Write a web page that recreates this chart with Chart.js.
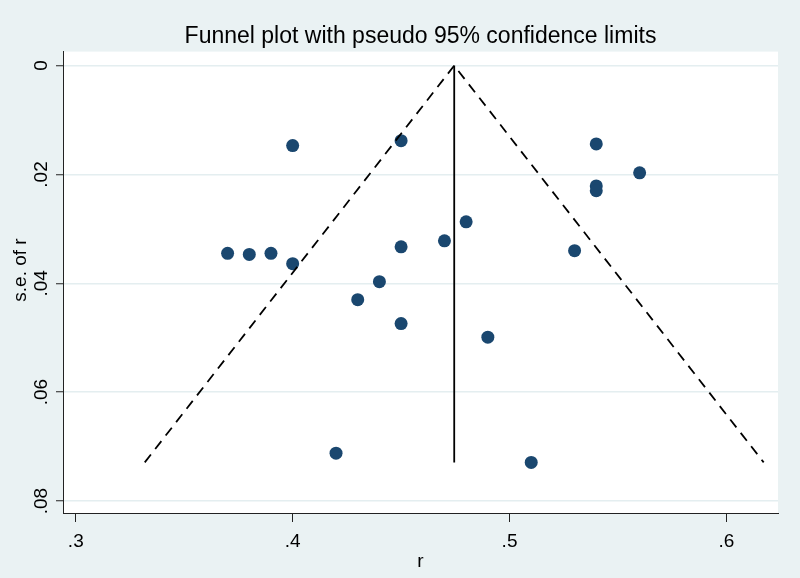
<!DOCTYPE html>
<html>
<head>
<meta charset="utf-8">
<title>Funnel plot</title>
<script src="https://cdn.jsdelivr.net/npm/chart.js@4.4.1/dist/chart.umd.min.js"></script>
<style>
  html, body { margin: 0; padding: 0; background: #EAF2F3; }
  canvas { display: block; }
</style>
</head>
<body>
<canvas id="funnelChart" width="800" height="578"></canvas>
<script>
// Study effect sizes (r) and their standard errors
const effectSizes = [0.40, 0.45, 0.54, 0.56, 0.54, 0.54, 0.48, 0.47, 0.45, 0.53,
                     0.37, 0.38, 0.39, 0.40, 0.44, 0.43, 0.45, 0.49, 0.42, 0.51];
const standardErrors = [0.0147, 0.0138, 0.0144, 0.0197, 0.0221, 0.0230, 0.0287, 0.0322, 0.0333, 0.0340,
                        0.0345, 0.0347, 0.0345, 0.0364, 0.0397, 0.0430, 0.0474, 0.0499, 0.0712, 0.0729];

// Pooled estimate line and pseudo 95% limits (vertices)
const pooledR = [0.4745, 0.4745];
const pooledSe = [0, 0.0729];
const funnelR = [0.3318, 0.4745, 0.6172];
const funnelSe = [0.0729, 0, 0.0729];

// Axis ticks
const xTicks = [0.3, 0.4, 0.5, 0.6];
const xTickLabels = [".3", ".4", ".5", ".6"];
const yTicks = [0, 0.02, 0.04, 0.06, 0.08];
const yTickLabels = ["0", ".02", ".04", ".06", ".08"];

const chartTitle = "Funnel plot with pseudo 95% confidence limits";
const xTitle = "r";
const yTitle = "s.e. of r";

const FONT = "'Liberation Sans', Arial, sans-serif";
const BG = "#EAF2F3";

function toPoints(xs, ys) {
    return xs.map((x, i) => ({ x: x, y: ys[i] }));
}

// background + rotated labels (Stata style)
const stataDecor = {
    id: "stataDecor",
    beforeDraw(chart) {
        const { ctx, chartArea: a } = chart;
        ctx.save();
        ctx.fillStyle = BG;
        ctx.fillRect(0, 0, chart.width, chart.height);
        ctx.fillStyle = "#ffffff";
        ctx.fillRect(a.left, a.top, a.right - a.left, a.bottom - a.top);
        ctx.restore();
    },
    afterDraw(chart) {
        const { ctx, chartArea: a } = chart;
        const xs = chart.scales.x, ys = chart.scales.y;
        ctx.save();
        ctx.fillStyle = "#000";
        ctx.font = "19px " + FONT;

        // x tick labels
        ctx.textAlign = "center";
        ctx.textBaseline = "alphabetic";
        xTicks.forEach((v, i) => {
            ctx.fillText(xTickLabels[i], xs.getPixelForValue(v), 547);
        });

        // y tick labels, rotated
        yTicks.forEach((v, i) => {
            ctx.save();
            ctx.translate(46.5, ys.getPixelForValue(v));
            ctx.rotate(-Math.PI / 2);
            ctx.fillText(yTickLabels[i], 0, 0);
            ctx.restore();
        });

        // axis titles
        ctx.fillText(xTitle, (a.left + a.right) / 2, 567);
        ctx.save();
        ctx.translate(25.5, 270);
        ctx.rotate(-Math.PI / 2);
        ctx.fillText(yTitle, 0, 0);
        ctx.restore();

        ctx.restore();
    }
};

function criarGrafico(ctx) {
    return new Chart(ctx, {
        type: "scatter",
        data: {
            datasets: [
                {
                    label: "pooled",
                    data: toPoints(pooledR, pooledSe),
                    showLine: true,
                    borderColor: "#000",
                    borderWidth: 1.8,
                    pointRadius: 0,
                    pointHoverRadius: 0
                },
                {
                    label: "limits",
                    data: toPoints(funnelR, funnelSe),
                    showLine: true,
                    borderColor: "#000",
                    borderWidth: 1.8,
                    borderDash: [10, 7],
                    pointRadius: 0,
                    pointHoverRadius: 0
                },
                {
                    label: "studies",
                    data: toPoints(effectSizes, standardErrors),
                    backgroundColor: "#1A476F",
                    borderColor: "#1A476F",
                    borderWidth: 0,
                    pointRadius: 6.5,
                    pointHoverRadius: 6.5
                }
            ]
        },
        options: {
            responsive: false,
            animation: false,
            devicePixelRatio: 1,
            layout: { padding: { left: 56, right: 22, top: 0, bottom: 56 } },
            plugins: {
                legend: { display: false },
                tooltip: { enabled: false },
                title: {
                    display: true,
                    text: chartTitle,
                    color: "#000",
                    fullSize: false,
                    font: { family: FONT, size: 23, weight: "normal" },
                    padding: { top: 23, bottom: 1 }
                }
            },
            scales: {
                x: {
                    type: "linear",
                    min: 0.2941,
                    max: 0.6238,
                    afterBuildTicks: (s) => { s.ticks = xTicks.map(v => ({ value: v })); },
                    ticks: { display: false },
                    grid: {
                        drawOnChartArea: false,
                        drawTicks: true,
                        tickLength: 9,
                        tickColor: "#222",
                        tickWidth: 1
                    },
                    border: { display: true, color: "#222", width: 1 },
                    title: { display: false }
                },
                y: {
                    type: "linear",
                    reverse: true,
                    min: -0.00257,
                    max: 0.0822,
                    afterBuildTicks: (s) => { s.ticks = yTicks.map(v => ({ value: v })); },
                    ticks: { display: false },
                    grid: {
                        color: "#E4EEF0",
                        lineWidth: 1.5,
                        drawTicks: true,
                        tickLength: 7,
                        tickColor: "#222",
                        tickWidth: 1
                    },
                    border: { display: true, color: "#222", width: 1 },
                    title: { display: false }
                }
            }
        },
        plugins: [stataDecor]
    });
}

document.addEventListener("DOMContentLoaded", function () {
    const ctx = document.getElementById("funnelChart").getContext("2d");
    criarGrafico(ctx);
});
</script>
</body>
</html>
